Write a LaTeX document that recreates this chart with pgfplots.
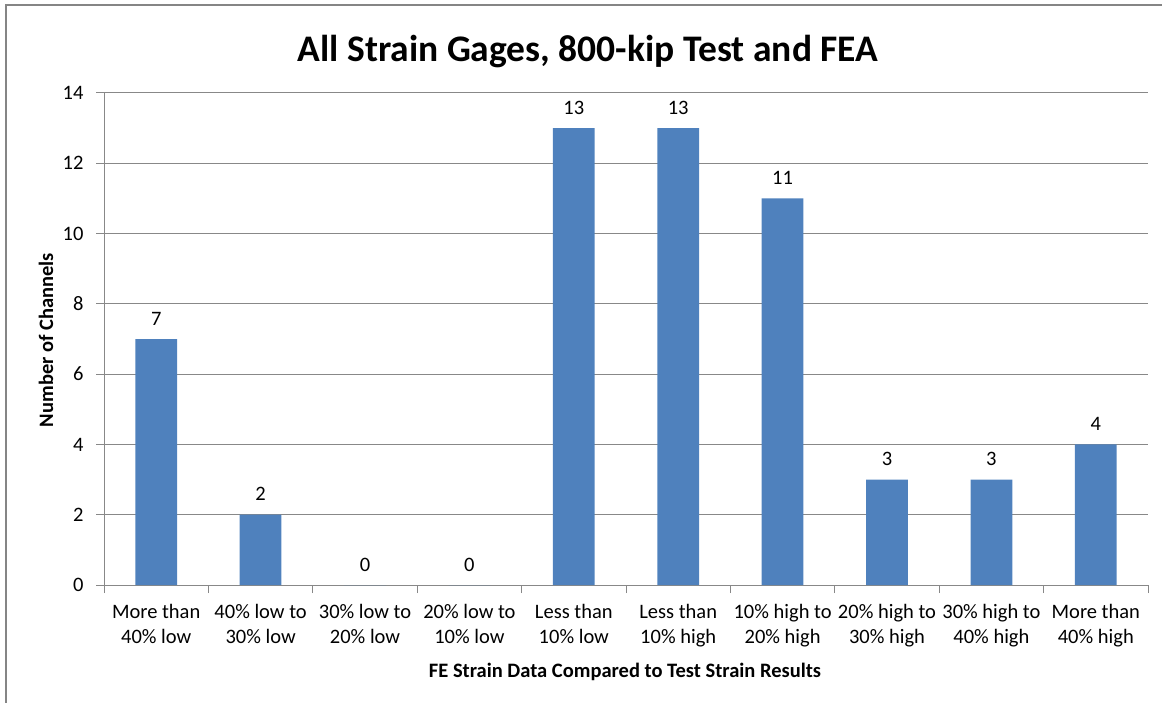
\documentclass[border=0pt]{standalone}
\usepackage{fontspec}
\setmainfont{Carlito}
\usepackage{pgfplots}
\pgfplotsset{compat=1.18}
\definecolor{barblue}{HTML}{4F81BD}
\definecolor{gridgray}{HTML}{888888}
\definecolor{framegray}{HTML}{858585}

\pgfplotstableread{
pos count
0 7
1 2
2 0
3 0
4 13
5 13
6 11
7 3
8 3
9 4
}\strainbins

\begin{document}
\begin{tikzpicture}[x=1pt,y=1pt]
\path[use as bounding box] (0pt,0pt) rectangle (1162pt,-703pt);
% outer chart frame
\draw[framegray, line width=2pt] (5.5pt,-703pt) -- (5.5pt,-5.5pt) -- (1162pt,-5.5pt);
\begin{axis}[
  at={(104pt,-585pt)}, anchor=south west,
  scale only axis, width=1044pt, height=492pt,
  xmin=-0.5, xmax=9.5, ymin=0, ymax=14,
  ytick={0,2,...,14},
  xtick={-0.5,0.5,...,9.5}, xticklabels={},
  extra x ticks={0,...,9},
  extra x tick labels={More than\\40\% low, 40\% low to\\30\% low, 30\% low to\\20\% low, 20\% low to\\10\% low, Less than\\10\% low, Less than\\10\% high, 10\% high to\\20\% high, 20\% high to\\30\% high, 30\% high to\\40\% high, More than\\40\% high},
  extra x tick style={major tick length=0pt},
  axis x line*=bottom, axis y line*=left,
  axis line style={gridgray, line width=1pt, -},
  ymajorgrids, grid style={gridgray, line width=1pt},
  major tick length=8pt, tick align=outside,
  tick style={gridgray, line width=1pt},
  /pgf/number format/assume math mode=true,
  ticklabel style={font=\fontsize{20.5}{24.5}\selectfont, text=black},
  xticklabel style={align=center, yshift=-16pt},
  yticklabel style={xshift=-9pt},
  ybar, bar width=0.4,
  nodes near coords,
  every node near coord/.append style={font=\fontsize{20.5}{24}\selectfont, text=black, anchor=base, yshift=14pt},
]
\addplot[fill=barblue, draw=none] table[x=pos, y=count] {\strainbins};
\end{axis}
\node[font=\bfseries\fontsize{37.5}{40}\selectfont, anchor=base] at (588pt,-62pt) {All Strain Gages, 800-kip Test and FEA};
\node[font=\bfseries\fontsize{20.5}{24}\selectfont, anchor=base] at (625pt,-677pt) {FE Strain Data Compared to Test Strain Results};
\node[font=\bfseries\fontsize{20.5}{24}\selectfont, rotate=90] at (46pt,-340pt) {Number of Channels};
\end{tikzpicture}
\end{document}
